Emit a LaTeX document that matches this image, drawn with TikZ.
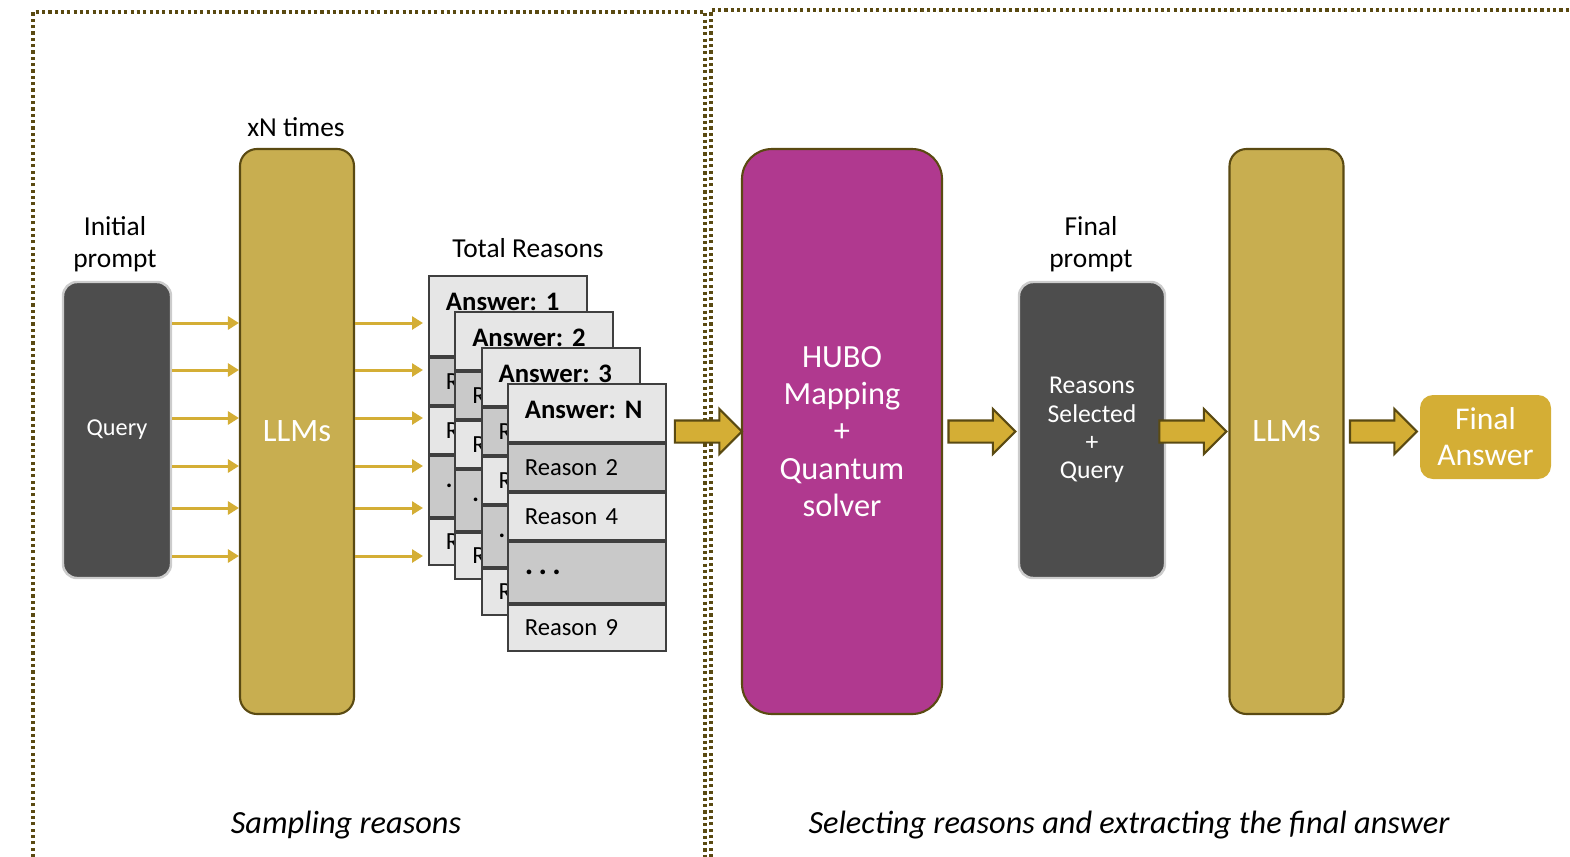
\documentclass[tikz,border=0pt]{standalone}
\usepackage{fontspec}
\setmainfont{Carlito}
\usetikzlibrary{calc,arrows.meta,shapes.arrows}
\definecolor{llmgold}{HTML}{C8AE50}
\definecolor{arrowgold}{HTML}{D4AE35}
\definecolor{olive}{HTML}{5A4A12}
\definecolor{darkbox}{HTML}{4D4D4D}
\definecolor{hubopink}{HTML}{B0398F}
\definecolor{cardlight}{HTML}{E6E6E6}
\definecolor{carddark}{HTML}{C9C9C9}
\definecolor{cardline}{HTML}{3F3F3F}
\newcommand{\tridots}{{\fontsize{9}{9}\selectfont .\,.\,.}}

\begin{document}
\begin{tikzpicture}[
        frame/.style={draw=olive, line width=0.9pt, dash pattern=on 0.9pt off 0.9pt},
        llm/.style={draw=olive, line width=0.6pt, fill=llmgold, rounded corners=0.17cm,
                    minimum width=1.14cm, minimum height=5.65cm, text=white,
                    font=\fontsize{9.3}{11}\selectfont},
        prompt/.style={draw=black!20, line width=0.7pt, fill=darkbox, rounded corners=0.14cm,
                    minimum height=2.96cm, text=white, align=center},
        hubo/.style={draw=olive, line width=0.6pt, fill=hubopink, rounded corners=0.3cm,
                    minimum width=2.00cm, minimum height=5.65cm, text=white, align=center,
                    font=\fontsize{9.2}{10.6}\selectfont},
        answer/.style={fill=arrowgold, rounded corners=0.13cm, minimum width=1.31cm,
                    minimum height=0.84cm, text=white, align=center,
                    font=\fontsize{9}{10.3}\selectfont},
        caption/.style={align=center, font=\fontsize{7.8}{9.1}\selectfont},
        bottomtext/.style={font=\fontsize{9.2}{10}\selectfont\itshape},
        thinarrow/.style={-{Triangle[length=1.1mm, width=1.3mm]}, draw=arrowgold, line width=0.85pt},
        bigarrow/.style={single arrow, draw=olive, line width=0.6pt, fill=arrowgold,
                    minimum height=0.67cm, minimum width=0.43cm, inner xsep=0pt, inner ysep=0.1cm,
                    single arrow head extend=0.115cm, single arrow head indent=0pt, xshift=-0.04cm},
        cardrow/.style={draw=cardline, line width=0.55pt, minimum width=1.58cm, anchor=north west,
                    inner xsep=0.17cm, text width=1.24cm, align=left, font=\fontsize{7}{8}\selectfont},
        cardhead/.style={cardrow, fill=cardlight, inner ysep=0.15cm, text height=0.2cm,
                    font=\fontsize{7.6}{8}\selectfont\bfseries}
      ]
        \useasboundingbox (0,0) rectangle (15.70,8.56);

        % dotted frames
        \draw[frame] (0.33,-0.2) |- (7.05,8.44) -- (7.05,-0.2);
        \draw[frame] (7.11,-0.2) |- (16.0,8.46);

        % sampling part
        \node[caption] (xn) at (2.96,7.29) {xN times};
        \node[llm] (llmA) at (2.97,4.245) {LLMs};
        \node[caption] (initial) at (1.15,6.12) {Initial\\prompt};
        \node[prompt, minimum width=1.08cm, font=\fontsize{6.9}{8}\selectfont] (query) at (1.17,4.26) {Query};
        \node[caption] (total) at (5.28,6.08) {Total Reasons};

        % stacked answer cards
        \foreach \k/\hh/\ra/\rb/\rc/\rd [count=\i from 0] in
            {1/0.80/R/R/./R, 2/0.58/R/R/./R, 3/0.58/R/R/./R, N/0.58/Reason 2/Reason 4/\tridots/Reason 9} {
          \coordinate (c\k) at ({4.28+0.263*\i},{5.81-0.36*\i});
          \node[cardhead, minimum height=\hh cm, text depth=\hh cm-0.50cm] (head\k) at (c\k) {Answer:\ \k};
          \node[cardrow, fill=carddark, minimum height=0.47cm] (ra\k) at (head\k.south west) {\ra};
          \node[cardrow, fill=cardlight, minimum height=0.47cm] (rb\k) at (ra\k.south west) {\rb};
          \node[cardrow, fill=carddark, minimum height=0.61cm] (rc\k) at (rb\k.south west) {\textbf{\rc}};
          \node[cardrow, fill=cardlight, minimum height=0.46cm] (rd\k) at (rc\k.south west) {\rd};
        }

        \foreach \y in {5.33,4.86,4.38,3.90,3.48,3.00} {
          \draw[thinarrow] (query.east |- 0,\y) -- (llmA.west |- 0,\y);
          \draw[thinarrow, shorten >=0.05cm] (llmA.east |- 0,\y) -- (head1.west |- 0,\y);
        }

        % selecting part
        \node[hubo] (hubo) at (8.42,4.245) {HUBO\\Mapping\\+\\Quantum\\solver};
        \node[caption] (final) at (10.91,6.12) {Final\\prompt};
        \node[prompt, minimum width=1.46cm, font=\fontsize{7.3}{8}\selectfont] (selected) at (10.92,4.26)
          {Reasons\\Selected\\+\\Query};
        \node[llm] (llmB) at (12.865,4.245) {LLMs};
        \node[answer] (result) at (14.855,4.19) {Final\\Answer};

        \path (hubo.west -| headN.east) -- node[bigarrow, xshift=0.03cm] (arrA) {} (hubo.west);
        \path (hubo.east) -- node[bigarrow] (arrB) {} (selected.west |- hubo.east);
        \path (selected.east |- hubo.east) -- node[bigarrow, xshift=-0.06cm] (arrC) {} (llmB.west |- hubo.east);
        \path (llmB.east |- hubo.east) -- node[bigarrow] (arrD) {} (result.west |- hubo.east);

        \node[bottomtext] (samp) at (3.46,0.31) {Sampling reasons};
        \node[bottomtext] (sel) at (11.29,0.31) {Selecting reasons and extracting the final answer};
      \end{tikzpicture}
\end{document}
